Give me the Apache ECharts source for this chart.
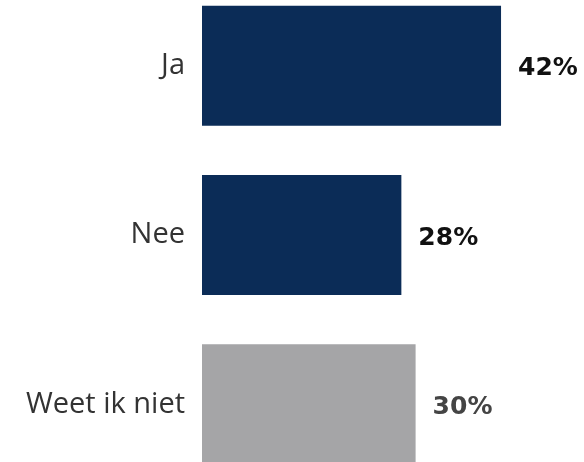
<!DOCTYPE html>
<html>
<head>
<meta charset="utf-8">
<script src="https://cdn.jsdelivr.net/npm/echarts@6/dist/echarts.min.js"></script>
<style>
  html, body {margin: 0; padding: 0; background: #fff; overflow: hidden;}
  /* the source chart is cropped: top and bottom bands run past the frame */
  #chart {width: 584px; height: 508px; margin-top: -19px;}
</style>
</head>
<body>
<div id="chart"></div>
<script>
// Share of answers, top to bottom as in the picture.
const categories = ["Ja", "Nee", "Weet ik niet"]
const values = [42, 28, 30]
const barColors = ["#0b2c57", "#0b2c57", "#a5a5a7"]
const labelColors = ["#111111", "#111111", "#444444"]

const FONT = "'Open Sans', 'DejaVu Sans', sans-serif"
const VALUE_FONT = "'DejaVu Sans', sans-serif"

const chart = echarts.init(document.getElementById("chart"), null, {renderer: "canvas"})

chart.setOption({
  animation: false,
  grid: {left: 202, right: 26, top: 0, bottom: 0, containLabel: false},
  xAxis: {
    type: "value",
    min: 0,
    max: 50,
    show: false,
  },
  yAxis: {
    type: "category",
    inverse: true,
    data: categories,
    axisLine: {show: false},
    axisTick: {show: false},
    splitLine: {show: false},
    axisLabel: {color: "#333333", fontFamily: FONT, fontSize: 29, margin: 17},
  },
  series: [{
    type: "bar",
    barWidth: 120,
    data: values.map((v, i) => ({
      value: v,
      itemStyle: {color: barColors[i]},
      label: {color: labelColors[i]},
    })),
    label: {
      show: true,
      position: "right",
      distance: 17,
      offset: [0, 3],
      formatter: "{c}%",
      fontFamily: VALUE_FONT,
      fontSize: 25,
      fontWeight: "bold",
    },
  }],
})
</script>
</body>
</html>
